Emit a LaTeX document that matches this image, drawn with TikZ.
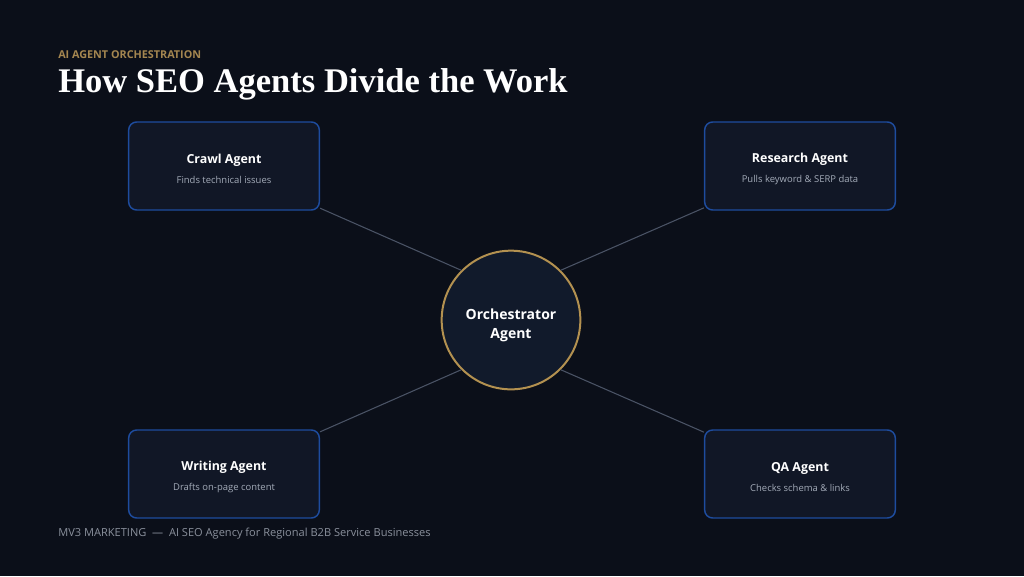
\documentclass[tikz,border=0pt]{standalone}
\usepackage{fontspec}
\setmainfont{Open Sans}
\newfontfamily\titlefont{Liberation Serif}
\usetikzlibrary{shapes}
\definecolor{bgdark}{HTML}{0B0F19}
\definecolor{boxfill}{HTML}{111726}
\definecolor{boxline}{HTML}{1E4C9E}
\definecolor{orchfill}{HTML}{111A2B}
\definecolor{goldline}{HTML}{B39150}
\definecolor{kickergold}{HTML}{A48650}
\definecolor{linkgrey}{HTML}{4A5365}
\definecolor{subgrey}{HTML}{A3ABB8}
\definecolor{footgrey}{HTML}{8A909C}
\tikzset{
  agent/.style={rectangle, rounded corners=6pt, draw=boxline, line width=1.1pt, fill=boxfill,
    minimum width=143pt, minimum height=66pt, align=center, text=white},
  orchestrator/.style={circle, draw=goldline, line width=1.5pt, fill=orchfill,
    minimum size=104pt, align=center, text=white, font=\bfseries\fontsize{10.5}{14.5}\selectfont},
  link/.style={draw=linkgrey, line width=0.8pt}
}
\newcommand{\agenttext}[2]{{\bfseries\fontsize{9.3}{12}\selectfont\rule{0pt}{12pt}#1}\\[3pt]{\fontsize{7.1}{8}\selectfont\color{subgrey}#2}}
\begin{document}
\begin{tikzpicture}[x=0.75pt, y=-0.75pt]
		\fill[bgdark] (0, 0) rectangle (1024, 576);
		\useasboundingbox (0, 0) rectangle (1024, 576);
		\path (58, 55) node(kicker) [anchor=west, inner sep=0pt, text=kickergold, font=\bfseries\fontsize{8.1}{10}\selectfont] {AI AGENT ORCHESTRATION};
		\path (58, 84) node(title) [anchor=west, inner sep=0pt, text=white, font=\titlefont\bfseries\fontsize{25.9}{30}\selectfont] {How SEO Agents Divide the Work};
		\path (511, 320) node(orch) [orchestrator] {\rule{0pt}{16pt}Orchestrator\\Agent};
		\path (224, 166) node(crawl) [agent] {\agenttext{Crawl Agent}{Finds technical issues}};
		\path (800, 166) node(research) [agent] {\agenttext{Research Agent}{Pulls keyword \& SERP data}};
		\path (224, 474) node(writing) [agent] {\agenttext{Writing Agent}{Drafts on-page content}};
		\path (800, 474) node(qa) [agent] {\agenttext{QA Agent}{Checks schema \& links}};
		\path (58, 534) node(footer) [anchor=west, inner sep=0pt, text=footgrey, font=\fontsize{8.3}{10}\selectfont] {MV3 MARKETING \ --- \ AI SEO Agency for Regional B2B Service Businesses};
		\draw [link] (crawl) to (orch.135);
		\draw [link] (research) to (orch.45);
		\draw [link] (writing) to (orch.225);
		\draw [link] (qa) to (orch.315);
	\end{tikzpicture}
\end{document}
